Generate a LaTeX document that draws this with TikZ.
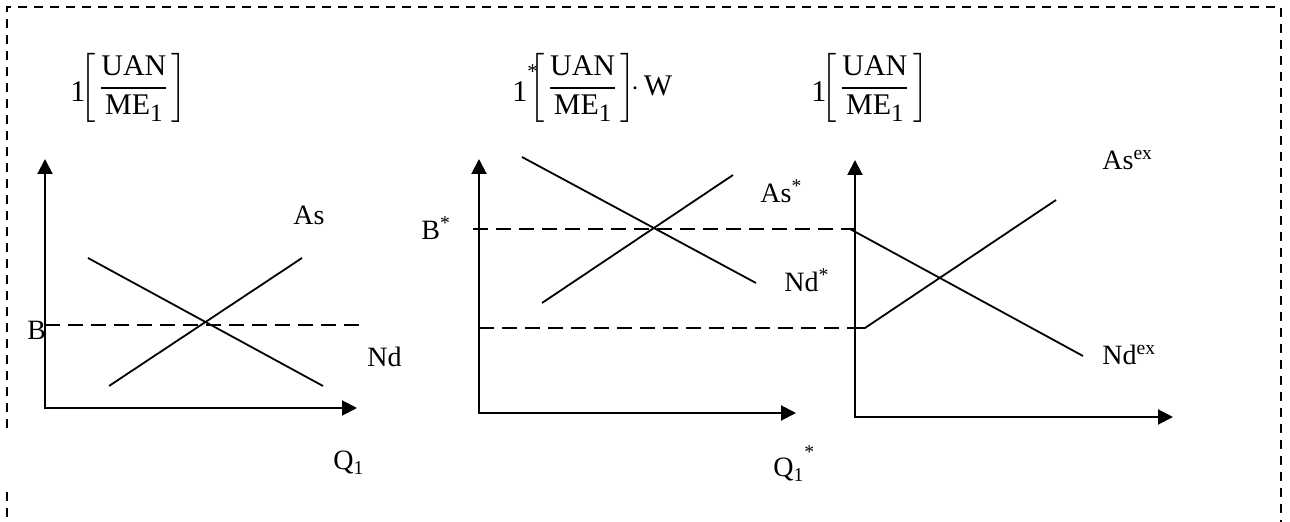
\documentclass[tikz,border=0pt]{standalone}
\usepackage{amsmath}
\usepackage{fontspec}
\setmainfont{Liberation Serif}
\usetikzlibrary{arrows.meta}
\newcommand{\uanfrac}{\left[\vcenter{\hbox{\rule{0pt}{38pt}}}\mkern2mu\dfrac{\mathrm{UAN}}{\mathrm{ME}\raisebox{-3.5pt}{\fontsize{12.5}{14}\selectfont 1}}\mkern2mu\right]}

\begin{document}
\begin{tikzpicture}[x=0.5pt,y=-0.5pt,>={Triangle[length=7.5pt,width=7.5pt]},
  axisline/.style={<->,line width=1pt},
  curveline/.style={line width=0.9pt},
  guideline/.style={line width=0.9pt,dash pattern=on 7.5pt off 4pt},
  frameline/.style={line width=0.9pt,dash pattern=on 4.5pt off 3.5pt},
  lbl/.style={anchor=base west,inner sep=0pt,font=\fontsize{14}{16}\selectfont},
  unit/.style={anchor=west,inner sep=0pt,font=\fontsize{15}{17}\selectfont}]
\useasboundingbox (0,0) rectangle (1290,522);
\draw[frameline] (7,428) -- (7,7) -- (1281,7) -- (1281,522);
\draw[frameline] (7,492) -- (7,522);

\coordinate (o1) at (45,408);
\coordinate (o2) at (479,413);
\coordinate (o3) at (855,417);

\node[unit] (u1) at (70,88) {$\raisebox{-3pt}{1}\!\!\uanfrac$};
\node[unit] (u2) at (512,88) {$\raisebox{-3pt}{1}^{\raisebox{3pt}{$\scriptstyle\text{*}$}}\!\!\!\uanfrac\!\!{\cdot}\,\mathrm{W}$};
\node[unit] (u3) at (811,88) {$\raisebox{-3pt}{1}\!\!\uanfrac$};

\draw[axisline] (o1 |- 0,159) -- (o1) -- (357,408);
\draw[curveline] (109,386) -- (302,258);
\draw[curveline] (88,258) -- (323,386);
\draw[guideline] (45,325) -- (365,325);
\node[lbl] (as) at (293,225) {As};
\node[lbl] (nd) at (367,367) {Nd};
\node[lbl] (b) at (27,340) {B};
\node[lbl] (q) at (333,470) {Q\textsubscript{1}};

\draw[axisline] (o2 |- 0,159) -- (o2) -- (796,413);
\draw[curveline] (522,157) -- (756,283);
\draw[curveline] (542,303) -- (733,175);
\draw[guideline] (473,229) -- (o3 |- 0,229);
\draw[guideline] (o2 |- 0,328) -- (o3 |- 0,328);
\node[lbl] (bs) at (421,240) {B\textsuperscript{*}};
\node[lbl] (ass) at (760,203) {As\textsuperscript{*}};
\node[lbl] (nds) at (784,292) {Nd\textsuperscript{*}};
\node[lbl] (qs) at (773,477) {Q\textsubscript{1}\raisebox{4pt}{\textsuperscript{*}}};

\draw[axisline] (o3 |- 0,160) -- (o3) -- (1173,417);
\draw[curveline] (850,229) -- (1083,356);
\draw[curveline] (o3 |- 0,328) -- (865,328) -- (1056,200);
\node[lbl] (asex) at (1102,170) {As\textsuperscript{ex}};
\node[lbl] (ndex) at (1102,365) {Nd\textsuperscript{ex}};
\end{tikzpicture}
\end{document}
